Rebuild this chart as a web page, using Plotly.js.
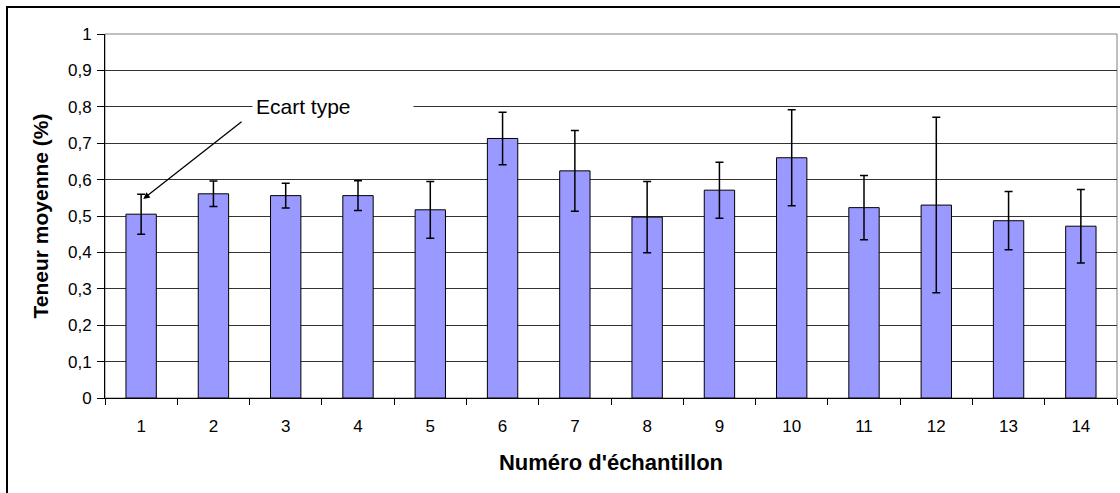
<!DOCTYPE html>
<html>
<head>
<meta charset="utf-8">
<script src="https://cdn.plot.ly/plotly-3.0.1.min.js"></script>
<style>
html, body { margin: 0; padding: 0; overflow: hidden; background: #fff; }
#chart { width: 1120px; height: 493px; }
#frame { position: absolute; left: 6px; top: 6px; width: 1300px; height: 700px; border: 2px solid #000; pointer-events: none; }
</style>
</head>
<body>
<div id="chart"></div>
<div id="frame"></div>
<script>
const categories = ["1","2","3","4","5","6","7","8","9","10","11","12","13","14"];
const teneur = [0.505, 0.561, 0.556, 0.556, 0.517, 0.713, 0.624, 0.497, 0.571, 0.660, 0.523, 0.530, 0.487, 0.472];
const ecartType = [0.055, 0.035, 0.034, 0.041, 0.078, 0.072, 0.111, 0.098, 0.077, 0.132, 0.088, 0.241, 0.080, 0.101];
const yTickVals = [0, 0.1, 0.2, 0.3, 0.4, 0.5, 0.6, 0.7, 0.8, 0.9, 1];
const yTickText = ["0", "0,1", "0,2", "0,3", "0,4", "0,5", "0,6", "0,7", "0,8", "0,9", "1"];

const font = "Liberation Sans, Arial, Helvetica, sans-serif";

const trace = {
  type: "bar",
  x: categories,
  y: teneur,
  marker: { color: "#9999FF", line: { color: "#000000", width: 1 } },
  error_y: { type: "data", array: ecartType, visible: true, color: "#000000", thickness: 1.5, width: 4 },
  hoverinfo: "x+y"
};

const layout = {
  width: 1120, height: 493,
  margin: { l: 105, r: 3, t: 34, b: 95 },
  paper_bgcolor: "#ffffff",
  plot_bgcolor: "#ffffff",
  showlegend: false,
  bargap: 0.58,
  separators: ", ",
  font: { family: font, color: "#000000", size: 17 },
  xaxis: {
    type: "category",
    tickson: "boundaries",
    ticks: "outside", ticklen: 6, tickcolor: "#000000", tickwidth: 1,
    ticklabelstandoff: 13,
    showline: true, linecolor: "#000000", linewidth: 1,
    showgrid: false, zeroline: false,
    tickfont: { family: font, size: 17, color: "#000000" },
    title: { text: "Numéro d'échantillon", font: { family: font, size: 22, color: "#000000", weight: "bold" }, standoff: 19 }
  },
  yaxis: {
    range: [0, 1],
    tickvals: yTickVals, ticktext: yTickText,
    ticks: "outside", ticklen: 7, tickcolor: "#000000", tickwidth: 1,
    ticklabelstandoff: 2,
    showline: true, linecolor: "#000000", linewidth: 1,
    showgrid: true, gridcolor: "#333333", gridwidth: 1,
    zeroline: false,
    tickfont: { family: font, size: 17, color: "#000000" },
    title: { text: "Teneur moyenne (%)", font: { family: font, size: 21, color: "#000000", weight: "bold" }, standoff: 13 }
  },
  shapes: [
    { type: "rect", xref: "paper", yref: "paper", x0: 0, x1: 1, y0: 0, y1: 1,
      line: { color: "#808080", width: 1 }, fillcolor: "rgba(0,0,0,0)", layer: "below" }
  ],
  annotations: [
    { xref: "x", yref: "y", x: 1.54, y: 0.8, xanchor: "left", yanchor: "middle",
      text: "Ecart type", showarrow: false, align: "left", width: 154,
      bgcolor: "#ffffff", borderpad: 3,
      font: { family: font, size: 21, color: "#000000" } },
    { xref: "x", yref: "y", x: 0.03, y: 0.547, axref: "x", ayref: "y", ax: 1.41, ay: 0.762,
      text: "", showarrow: true, arrowhead: 2, arrowsize: 1, arrowwidth: 1.3, arrowcolor: "#000000" }
  ]
};

Plotly.newPlot("chart", [trace], layout, { displayModeBar: false, staticPlot: true });
</script>
</body>
</html>
